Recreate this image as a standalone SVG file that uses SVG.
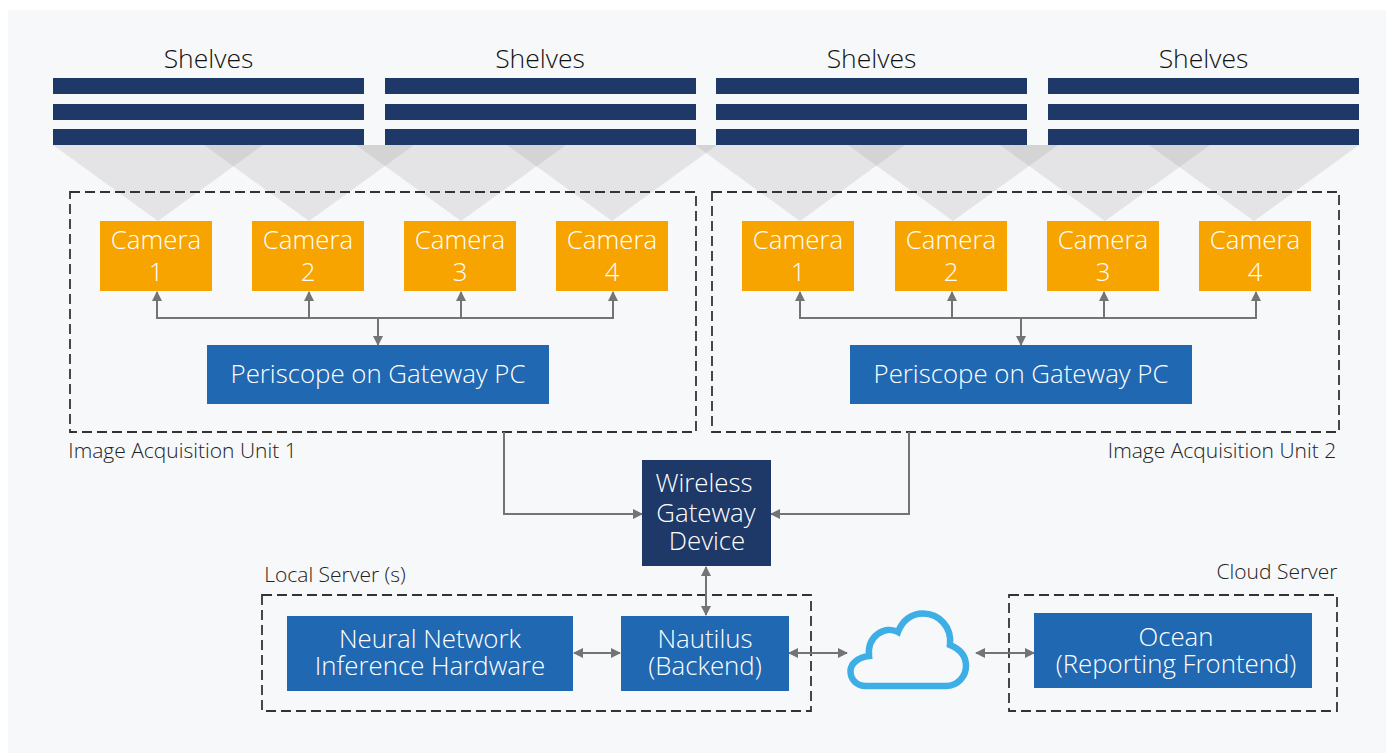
<svg xmlns="http://www.w3.org/2000/svg" width="1393" height="754" viewBox="0 0 1393 754">
<style>
text{font-family:"Open Sans","Noto Sans","Liberation Sans",sans-serif;font-weight:300;text-anchor:middle}
.w{fill:#fff;font-size:25.800px}
.d{fill:#111;font-size:26.500px}
.l{fill:#222;font-size:21px;font-weight:300}
.shelf{fill:#1e3868}
.cam{fill:#f8a400}
.blue{fill:#2068b2}
.cone{fill:#8f8a8a;fill-opacity:.18}
.dash{fill:none;stroke:#333;stroke-width:1.800;stroke-dasharray:10 5}
.c{fill:none;stroke:#747474;stroke-width:2}
.ah{fill:#747474}
</style>
<defs>
<marker id="a" viewBox="0 0 10 10" refX="9" refY="5" markerWidth="10" markerHeight="10" markerUnits="userSpaceOnUse" orient="auto-start-reverse"><path class="ah" d="M0 0L10 5L0 10Z"/></marker>
</defs>
<rect width="1393" height="754" fill="#fff"/>
<rect x="8" y="10" width="1378" height="743" fill="#f7f8fa"/>
<g id="cones">
<path class="cone" d="M53 145H263L158 221Z"/><path class="cone" d="M204 145H414L309 221Z"/><path class="cone" d="M356 145H566L461 221Z"/><path class="cone" d="M507 145H717L612 221Z"/>
<path class="cone" d="M695 145H905L800 221Z"/><path class="cone" d="M848 145H1058L953 221Z"/><path class="cone" d="M1000 145H1210L1105 221Z"/><path class="cone" d="M1149 145H1359L1254 221Z"/>
</g>
<g id="shelves1"><text class="d" x="208.500" y="68">Shelves</text><rect class="shelf" x="53" y="78" width="311" height="16"/><rect class="shelf" x="53" y="104" width="311" height="16"/><rect class="shelf" x="53" y="129" width="311" height="16"/></g>
<g id="shelves2"><text class="d" x="540" y="68">Shelves</text><rect class="shelf" x="385" y="78" width="311" height="16"/><rect class="shelf" x="385" y="104" width="311" height="16"/><rect class="shelf" x="385" y="129" width="311" height="16"/></g>
<g id="shelves3"><text class="d" x="871.500" y="68">Shelves</text><rect class="shelf" x="716" y="78" width="311" height="16"/><rect class="shelf" x="716" y="104" width="311" height="16"/><rect class="shelf" x="716" y="129" width="311" height="16"/></g>
<g id="shelves4"><text class="d" x="1203.500" y="68">Shelves</text><rect class="shelf" x="1048" y="78" width="311" height="16"/><rect class="shelf" x="1048" y="104" width="311" height="16"/><rect class="shelf" x="1048" y="129" width="311" height="16"/></g>
<g id="unit1"><rect class="dash" x="70" y="192" width="626" height="240"/><text class="l" x="182.500" y="458">Image Acquisition Unit 1</text></g>
<g id="unit2"><rect class="dash" x="712" y="192" width="627" height="240"/><text class="l" x="1222" y="458">Image Acquisition Unit 2</text></g>
<g id="local"><rect class="dash" x="262" y="595" width="549" height="116"/><text class="l" x="335" y="582">Local Server (s)</text></g>
<g id="cloudsrv"><rect class="dash" x="1009" y="595" width="328" height="116"/><text class="l" x="1277" y="579">Cloud Server</text></g>
<g id="connectors">
<path class="c" marker-start="url(#a)" marker-end="url(#a)" d="M157 292V318H613V292"/>
<path class="c" marker-end="url(#a)" d="M309 318V292"/><path class="c" marker-end="url(#a)" d="M461 318V292"/>
<path class="c" marker-end="url(#a)" d="M378 318V345"/>
<path class="c" marker-start="url(#a)" marker-end="url(#a)" d="M800 292V318H1256V292"/>
<path class="c" marker-end="url(#a)" d="M952 318V292"/><path class="c" marker-end="url(#a)" d="M1104 318V292"/>
<path class="c" marker-end="url(#a)" d="M1021 318V345"/>
<path class="c" marker-end="url(#a)" d="M504 432V514H642"/>
<path class="c" marker-end="url(#a)" d="M909 432V514H771"/>
<path class="c" marker-start="url(#a)" marker-end="url(#a)" d="M706 567V615"/>
<path class="c" marker-start="url(#a)" marker-end="url(#a)" d="M574 653H620"/>
<path class="c" marker-start="url(#a)" marker-end="url(#a)" d="M789 653H847"/>
<path class="c" marker-start="url(#a)" marker-end="url(#a)" d="M976 653H1034"/>
</g>
<g id="cam1-1"><rect class="cam" x="100" y="221" width="112" height="70"/><text class="w" x="156" y="249">Camera</text><text class="w" x="156" y="281">1</text></g>
<g id="cam1-2"><rect class="cam" x="252" y="221" width="112" height="70"/><text class="w" x="308" y="249">Camera</text><text class="w" x="308" y="281">2</text></g>
<g id="cam1-3"><rect class="cam" x="404" y="221" width="112" height="70"/><text class="w" x="460" y="249">Camera</text><text class="w" x="460" y="281">3</text></g>
<g id="cam1-4"><rect class="cam" x="556" y="221" width="112" height="70"/><text class="w" x="612" y="249">Camera</text><text class="w" x="612" y="281">4</text></g>
<g id="cam2-1"><rect class="cam" x="742" y="221" width="112" height="70"/><text class="w" x="798" y="249">Camera</text><text class="w" x="798" y="281">1</text></g>
<g id="cam2-2"><rect class="cam" x="895" y="221" width="112" height="70"/><text class="w" x="951" y="249">Camera</text><text class="w" x="951" y="281">2</text></g>
<g id="cam2-3"><rect class="cam" x="1047" y="221" width="112" height="70"/><text class="w" x="1103" y="249">Camera</text><text class="w" x="1103" y="281">3</text></g>
<g id="cam2-4"><rect class="cam" x="1199" y="221" width="112" height="70"/><text class="w" x="1255" y="249">Camera</text><text class="w" x="1255" y="281">4</text></g>
<g id="peri1"><rect class="blue" x="207" y="345" width="342" height="59"/><text class="w" x="378" y="383">Periscope on Gateway PC</text></g>
<g id="peri2"><rect class="blue" x="850" y="345" width="342" height="59"/><text class="w" x="1021" y="383">Periscope on Gateway PC</text></g>
<g id="gateway"><rect class="shelf" x="642" y="460" width="129" height="106"/><text class="w" x="704" y="492">Wireless</text><text class="w" x="706" y="522">Gateway</text><text class="w" x="707" y="550">Device</text></g>
<g id="nn"><rect class="blue" x="287" y="616" width="286" height="75"/><text class="w" x="430" y="648">Neural Network</text><text class="w" x="430" y="675">Inference Hardware</text></g>
<g id="nautilus"><rect class="blue" x="621" y="616" width="168" height="75"/><text class="w" x="705" y="648">Nautilus</text><text class="w" x="705" y="675">(Backend)</text></g>
<g id="ocean"><rect class="blue" x="1034" y="613" width="278" height="75"/><text class="w" x="1176" y="646">Ocean</text><text class="w" x="1176" y="673">(Reporting Frontend)</text></g>
<g id="cloud"><path fill="none" stroke="#3daee6" stroke-width="6.500" d="M866 686H946C958 686 966 676 966 666C966 656 960 649 950 645C952 627 939 613.500 923 613.500C911 613.500 902 621 898 632C885 625 867 636 869 656C858 657 850.500 664 850.500 671C850.500 680 857 686 866 686Z"/></g>
</svg>
